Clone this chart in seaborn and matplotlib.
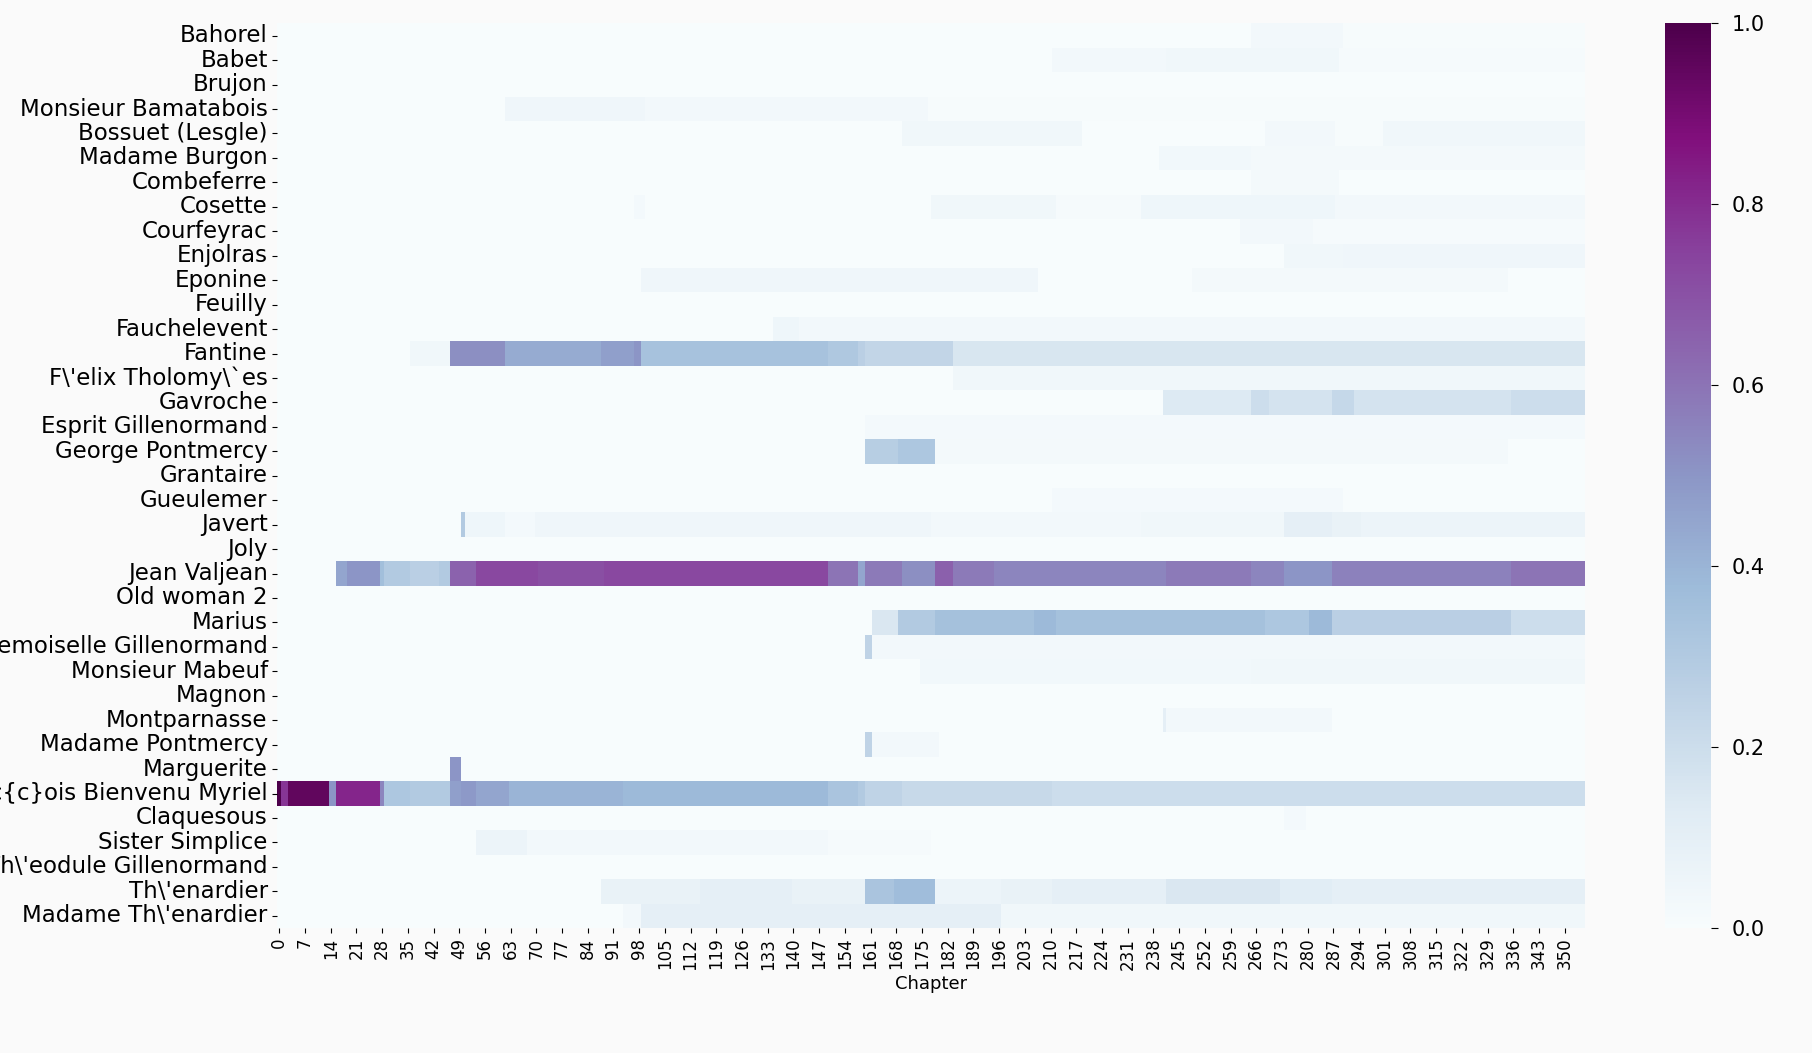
import numpy as np
import pandas as pd
import matplotlib
matplotlib.use("Agg")
import matplotlib.pyplot as plt
import seaborn as sns

# characters, top to bottom
characters = [
    "Bahorel", "Babet", "Brujon", "Monsieur Bamatabois", "Bossuet (Lesgle)",
    "Madame Burgon", "Combeferre", "Cosette", "Courfeyrac", "Enjolras",
    "Eponine", "Feuilly", "Fauchelevent", "Fantine", r"F\'elix Tholomy\`es",
    "Gavroche", "Esprit Gillenormand", "George Pontmercy", "Grantaire",
    "Gueulemer", "Javert", "Joly", "Jean Valjean", "Old woman 2", "Marius",
    "Mademoiselle Gillenormand", "Monsieur Mabeuf", "Magnon", "Montparnasse",
    "Madame Pontmercy", "Marguerite", r"Charles Fran\c{c}ois Bienvenu Myriel",
    "Claquesous", "Sister Simplice", r"Th\'eodule Gillenormand",
    r"Th\'enardier", r"Madame Th\'enardier",
]
n_chapters = 356

# runs of (first chapter, chapter after last, value)
bahorel = [(265, 290, 0.03), (290, 356, 0.01)]
babet = [(211, 242, 0.03), (242, 289, 0.04), (289, 356, 0.015)]
bamatabois = [(62, 100, 0.045), (100, 177, 0.03), (177, 356, 0.01)]
bossuet = [(170, 219, 0.04), (269, 288, 0.03), (288, 301, 0.01), (301, 356, 0.04)]
burgon = [(240, 265, 0.035), (265, 356, 0.025)]
combeferre = [(265, 289, 0.025)]
cosette = [(97, 100, 0.02), (178, 212, 0.04), (212, 235, 0.015), (235, 288, 0.05), (288, 356, 0.03)]
courfeyrac = [(262, 282, 0.03), (282, 356, 0.015)]
enjolras = [(274, 290, 0.04), (290, 356, 0.045)]
eponine = [(99, 207, 0.045), (249, 335, 0.025)]
fauchelevent = [(135, 142, 0.05), (142, 356, 0.03)]
fantine = [(36, 47, 0.04), (47, 62, 0.52), (62, 88, 0.43), (88, 97, 0.47), (97, 99, 0.5),
           (99, 150, 0.34), (150, 158, 0.31), (158, 160, 0.27), (160, 184, 0.24), (184, 356, 0.16)]
tholomyes = [(184, 356, 0.04)]
gavroche = [(241, 265, 0.14), (265, 270, 0.2), (270, 287, 0.17), (287, 293, 0.23),
            (293, 336, 0.17), (336, 356, 0.2)]
esprit = [(160, 356, 0.02)]
george = [(160, 169, 0.28), (169, 179, 0.32), (179, 335, 0.025)]
gueulemer = [(211, 290, 0.02)]
javert = [(50, 51, 0.3), (51, 62, 0.05), (62, 70, 0.02), (70, 178, 0.045), (178, 235, 0.03),
          (235, 274, 0.04), (274, 287, 0.1), (287, 295, 0.08), (295, 356, 0.06)]
valjean = [(16, 19, 0.45), (19, 28, 0.5), (28, 29, 0.36), (29, 36, 0.3), (36, 44, 0.27),
           (44, 47, 0.3), (47, 54, 0.65), (54, 71, 0.73), (71, 89, 0.71), (89, 150, 0.73),
           (150, 158, 0.6), (158, 160, 0.45), (160, 170, 0.58), (170, 179, 0.52),
           (179, 184, 0.66), (184, 195, 0.58), (195, 242, 0.55), (242, 265, 0.58),
           (265, 274, 0.55), (274, 287, 0.5), (287, 336, 0.56), (336, 356, 0.6)]
marius = [(162, 169, 0.15), (169, 179, 0.3), (179, 206, 0.35), (206, 212, 0.38),
          (212, 269, 0.35), (269, 281, 0.32), (281, 287, 0.38), (287, 336, 0.27), (336, 356, 0.2)]
mlle_gillenormand = [(160, 162, 0.25), (162, 356, 0.03)]
mabeuf = [(175, 265, 0.035), (265, 356, 0.04)]
montparnasse = [(241, 242, 0.1), (242, 287, 0.03)]
mme_pontmercy = [(160, 162, 0.25), (162, 180, 0.03)]
marguerite = [(47, 50, 0.5)]
myriel = [(0, 1, 1.0), (1, 3, 0.78), (3, 14, 0.95), (14, 16, 0.5), (16, 28, 0.82),
          (28, 29, 0.55), (29, 36, 0.32), (36, 47, 0.3), (47, 50, 0.47), (50, 54, 0.49),
          (54, 63, 0.45), (63, 94, 0.4), (94, 150, 0.38), (150, 158, 0.33), (158, 160, 0.3),
          (160, 170, 0.25), (170, 211, 0.22), (211, 356, 0.2)]
claquesous = [(274, 280, 0.02)]
simplice = [(54, 68, 0.06), (68, 150, 0.03), (150, 178, 0.015)]
thenardier = [(88, 115, 0.08), (115, 140, 0.1), (140, 160, 0.08), (160, 168, 0.33),
              (168, 179, 0.37), (179, 197, 0.06), (197, 211, 0.08), (211, 242, 0.1),
              (242, 273, 0.15), (273, 287, 0.12), (287, 356, 0.1)]
mme_thenardier = [(94, 99, 0.03), (99, 197, 0.1), (197, 356, 0.04)]

runs = {
    "Bahorel": bahorel, "Babet": babet, "Monsieur Bamatabois": bamatabois,
    "Bossuet (Lesgle)": bossuet, "Madame Burgon": burgon, "Combeferre": combeferre,
    "Cosette": cosette, "Courfeyrac": courfeyrac, "Enjolras": enjolras,
    "Eponine": eponine, "Fauchelevent": fauchelevent, "Fantine": fantine,
    r"F\'elix Tholomy\`es": tholomyes, "Gavroche": gavroche,
    "Esprit Gillenormand": esprit, "George Pontmercy": george, "Gueulemer": gueulemer,
    "Javert": javert, "Jean Valjean": valjean, "Marius": marius,
    "Mademoiselle Gillenormand": mlle_gillenormand, "Monsieur Mabeuf": mabeuf,
    "Montparnasse": montparnasse, "Madame Pontmercy": mme_pontmercy,
    "Marguerite": marguerite, r"Charles Fran\c{c}ois Bienvenu Myriel": myriel,
    "Claquesous": claquesous, "Sister Simplice": simplice,
    r"Th\'enardier": thenardier, r"Madame Th\'enardier": mme_thenardier,
}

df = pd.DataFrame(0.0, index=characters, columns=range(n_chapters))
for name, segs in runs.items():
    for start, end, val in segs:
        df.loc[name, start:end - 1] = val

plt.rcParams["font.family"] = ["DejaVu Sans"]

fig = plt.figure(figsize=(18.12, 10.53), dpi=100)
fig.patch.set_facecolor("#fafafa")
ax = fig.add_axes([0.1531, 0.1187, 0.7216, 0.859])
cax = fig.add_axes([0.9189, 0.1187, 0.0254, 0.859])

sns.heatmap(df, cmap="BuPu", vmin=0, vmax=1, ax=ax, cbar_ax=cax,
            xticklabels=7, yticklabels=characters)

ax.set_xlabel("Chapter", fontsize=13)
ax.set_ylabel("")
ax.tick_params(axis="x", labelsize=12, labelrotation=90)
ax.tick_params(axis="y", labelsize=16.5, labelrotation=0)
cax.tick_params(labelsize=15, pad=10, length=5)
cax.set_yticks([0.0, 0.2, 0.4, 0.6, 0.8, 1.0])
cax.set_yticklabels(["0.0", "0.2", "0.4", "0.6", "0.8", "1.0"])

fig.savefig("out.png", dpi=100, facecolor=fig.get_facecolor())
